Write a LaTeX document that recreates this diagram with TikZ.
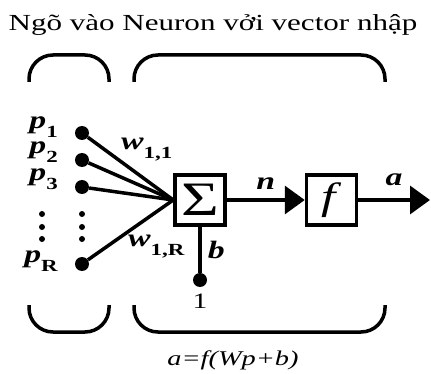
\documentclass[tikz,border=0pt]{standalone}
\usepackage{fontspec}
\setmainfont[FakeStretch=1.35]{Liberation Serif}
\usetikzlibrary{positioning,arrows.meta}
\newcommand{\lo}[1]{\raisebox{-9pt}{\fontsize{17}{17}\selectfont\upshape\bfseries #1}}
\tikzset{
  dot/.style={circle, fill=black, inner sep=0pt, minimum size=14pt},
  smalldot/.style={circle, fill=black, inner sep=0pt, minimum size=6pt},
  blockbox/.style={draw, line width=3.5pt, minimum size=50pt, inner sep=0pt},
  wire/.style={line width=3.5pt},
  flow/.style={wire, -{Triangle[length=20pt,width=28pt]}},
  brace/.style={line width=3.5pt, rounded corners=24pt},
  lbl/.style={font=\fontsize{25}{25}\selectfont\bfseries\itshape, inner sep=0pt},
}
\begin{document}
\begin{tikzpicture}[x=1pt,y=-1pt]
  \useasboundingbox (0,0) rectangle (431,374);
  \node[font=\fontsize{23}{24}\selectfont] (title) at (213,25) {Ngõ vào Neuron vởi vector nhập};

  % braces
  \draw[brace] (29,82) -- (29,55) -- (109,55) -- (109,82);
  \draw[brace] (134,82) -- (134,55) -- (385,55) -- (385,82);
  \draw[brace] (29,305) -- (29,332) -- (109,332) -- (109,305);
  \draw[brace] (134,305) -- (134,332) -- (385,332) -- (385,305);

  % inputs
  \node[dot] (p1) at (82,133) {};
  \node[dot] (p2) at (82,160) {};
  \node[dot] (p3) at (82,187) {};
  \node[dot] (pR) at (82,264) {};
  \foreach \y in {214,227,239} {
    \node[smalldot] at (42,\y) {};
    \node[smalldot] at (82,\y) {};
  }
  \node[lbl, anchor=base east] (lp1) at ([shift={(-24,-4)}]p1.center) {p\lo{1}};
  \node[lbl, anchor=base east] (lp2) at ([shift={(-24,-6)}]p2.center) {p\lo{2}};
  \node[lbl, anchor=base east] (lp3) at ([shift={(-24,-6)}]p3.center) {p\lo{3}};
  \node[lbl, anchor=base east] (lpR) at ([shift={(-24,-2)}]pR.center) {p\lo{R}};

  % neuron
  \node[blockbox, font=\fontsize{48}{48}\selectfont] (sum) at (200,200) {Σ};
  \node[blockbox, right=78pt of sum, font=\fontsize{38}{38}\selectfont\itshape] (f) {f\,};
  \coordinate (out) at (430,200);
  \node[dot] (one) at (200,280) {};
  \node[font=\fontsize{22}{22}\selectfont, below=3pt of one] (lone) {1};

  \foreach \p in {p1,p2,p3,pR}
    \draw[wire] (\p) -- (sum.west);
  \draw[wire] (one) -- node[lbl, right=6pt] (lb) {b} (sum.south);
  \draw[flow] (sum) -- node[lbl, above=9pt] (ln) {n} (f);
  \draw[flow] (f) -- node[lbl, above=12pt] (la) {a} (out);

  \node[lbl, anchor=base west] (w11) at (121,150) {w\lo{1,1}};
  \node[lbl, anchor=base west] (w1R) at (128,247) {w\lo{1,R}};

  \node[font=\fontsize{21}{21}\selectfont\itshape] (eq) at (233,360) {a=f(Wp+b)};
\end{tikzpicture}
\end{document}
